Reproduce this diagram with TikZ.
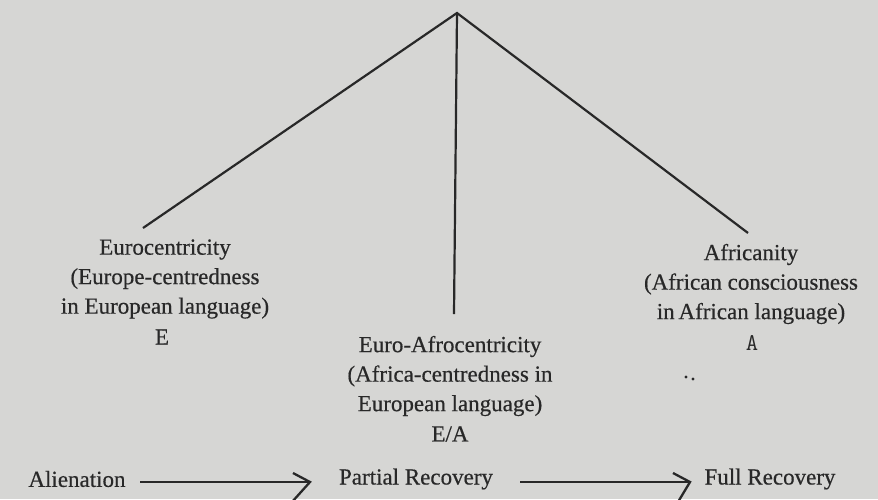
\documentclass[tikz,border=0pt]{standalone}
\usepackage{fontspec}
\setmainfont{Liberation Serif}
\newfontfamily\inkfont{Liberation Serif}[FakeBold=0.5]
\definecolor{paper}{RGB}{214,214,212}
\definecolor{ink}{RGB}{40,40,40}
\begin{document}
\begin{tikzpicture}[x=1pt,y=-1pt,
  lbl/.style={inner sep=0pt,text=ink,align=center,font=\inkfont\fontsize{23}{29.5}\selectfont},
  conn/.style={draw=ink,line width=2.2pt},
  arrowline/.style={draw=ink,line width=2.3pt}]
\fill[paper] (0,0) rectangle (878,499);
\useasboundingbox (0,0) rectangle (878,499);
\clip (0,0) rectangle (878,499);
% apex and ends of the three lines
\coordinate (apex) at (457,13);
\coordinate (eEnd) at (143,228);
\coordinate (aEnd) at (748,233);
\coordinate (mEnd) at (454,314);
\draw[conn,line join=miter] (eEnd) -- (apex) -- (aEnd);
\draw[conn] (apex) -- (mEnd);
% labels
\node[lbl] (euro) at (165,279) {Eurocentricity\\(Europe-centredness\\in European language)};
\node[lbl] (eLetter) at (162,337) {E};
\node[lbl] (afri) at (751,284) {Africanity\\(African consciousness\\in\,African language)};
\node[inner sep=0pt,text=ink,font=\ttfamily\fontsize{24}{25}\selectfont] (aLetter) at (752,343) {A};
\node[lbl] (euroafro) at (450,376) {Euro-Afrocentricity\\(Africa-centredness in\\European language)};
\node[lbl] (ea) at (450,434) {E/A};
\fill[ink] (686,377) circle (1.6) (693,379) circle (1.6);
% bottom row
\node[lbl] (alien) at (77,479) {Alienation};
\node[lbl] (partial) at (416,479) {Partial Recovery};
\node[lbl] (full) at (770,479) {Full Recovery};
\coordinate (a1s) at (140,482);
\coordinate (a1t) at (310,482);
\coordinate (a2s) at (520,482);
\coordinate (a2t) at (690,482);
\draw[arrowline] (a1s) -- (a1t);
\draw[arrowline,line join=miter] (a1t) ++(-17,-9) -- (a1t) -- ++(-18,20);
\draw[arrowline] (a2s) -- (a2t);
\draw[arrowline,line join=miter] (a2t) ++(-17,-9) -- (a2t) -- ++(-12,20);
\end{tikzpicture}
\end{document}
